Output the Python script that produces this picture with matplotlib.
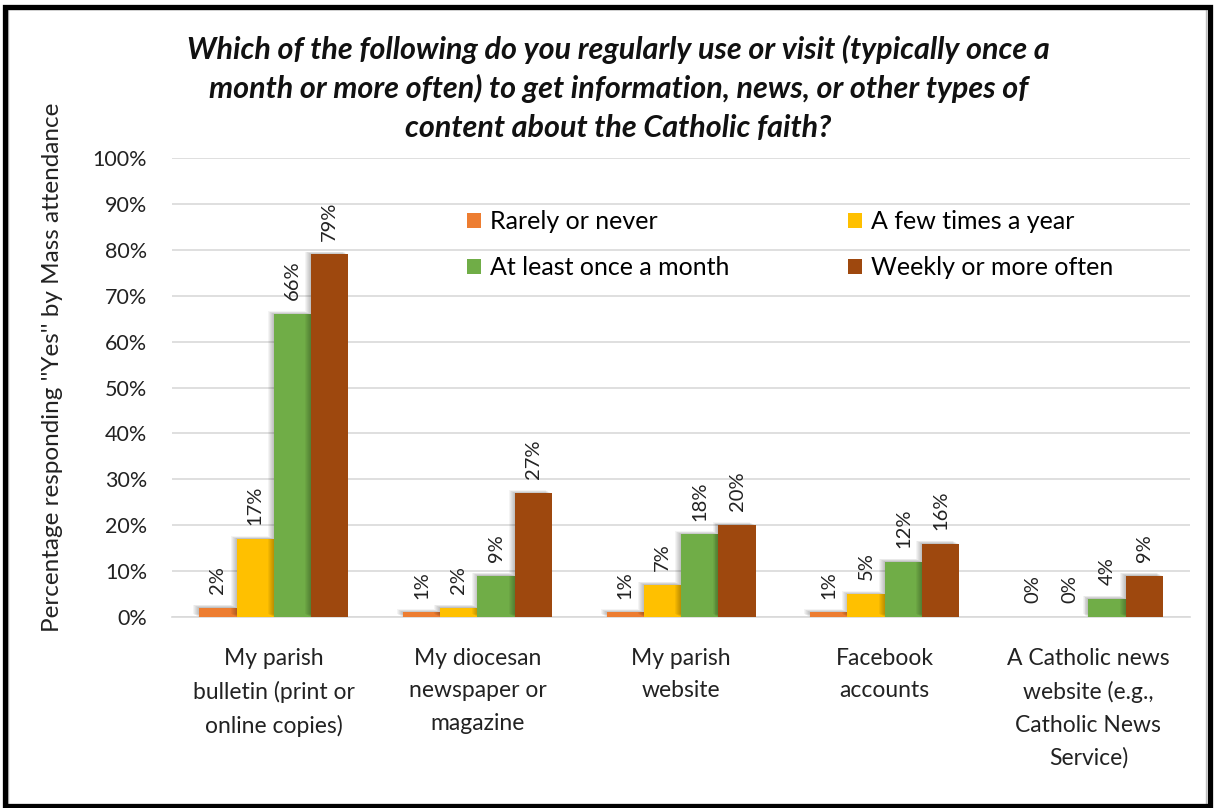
import matplotlib
matplotlib.use("Agg")
import matplotlib.pyplot as plt
import matplotlib.patheffects as pe
from matplotlib.patches import Rectangle, Patch
import numpy as np

plt.rcParams['font.family'] = ['Lato', 'DejaVu Sans']

categories = [
    "My parish\nbulletin (print or\nonline copies)",
    "My diocesan\nnewspaper or\nmagazine",
    "My parish\nwebsite",
    "Facebook\naccounts",
    "A Catholic news\nwebsite (e.g.,\nCatholic News\nService)",
]
series_names = ["Rarely or never", "A few times a year",
                "At least once a month", "Weekly or more often"]
rarely = [2, 1, 1, 1, 0]
few_times = [17, 2, 7, 5, 0]
monthly = [66, 9, 18, 12, 4]
weekly = [79, 27, 20, 16, 9]
yticks = [0, 10, 20, 30, 40, 50, 60, 70, 80, 90, 100]

colors = ["#ED7D31", "#FFC000", "#70AD47", "#9E480E"]
title = ("Which of the following do you regularly use or visit (typically once a\n"
         "month or more often) to get information, news, or other types of\n"
         "content about the Catholic faith?")
ylabel = "Percentage responding ''Yes'' by Mass attendance"

W, H = 1215, 808
fig = plt.figure(figsize=(W / 100, H / 100), dpi=100)
ax = fig.add_axes([0.1416, 0.2364, 0.838, 0.568])

x = np.arange(len(categories))
width = 0.183
series = [rarely, few_times, monthly, weekly]

# soft shadow cast up and to the left of each bar
shadow = [pe.SimplePatchShadow(offset=(-0.7 * k, 0.35 * k), shadow_rgbFace="#000000",
                               alpha=0.045) for k in range(1, 7)] + [pe.Normal()]

for i, (vals, col, name) in enumerate(zip(series, colors, series_names)):
    xpos = x + (i - 1.5) * width
    bars = ax.bar(xpos, vals, width, color=col, label=name, zorder=3)
    for b in bars:
        if b.get_height() > 0:
            b.set_path_effects(shadow)
    for xp, v in zip(xpos, vals):
        ax.text(xp, v + 3.0, f"{v:.0f}%", rotation=90, ha="center", va="bottom",
                fontsize=14.5, color="#222222", zorder=4)

ax.set_ylim(0, 100)
ax.set_xlim(-0.5, len(categories) - 0.5)
ax.set_yticks(yticks)
ax.set_yticklabels([f"{t}%" for t in yticks], fontsize=15.5, color="#222222")
ax.set_xticks(x)
ax.set_xticklabels(categories, fontsize=16.5, color="#222222", linespacing=1.68, va="top")
ax.tick_params(axis="both", length=0)
ax.tick_params(axis="x", pad=22)
ax.tick_params(axis="y", pad=18)
ax.grid(axis="y", color="#D9D9D9", linewidth=1.2, zorder=0)
for s in ["top", "right", "left"]:
    ax.spines[s].set_visible(False)
ax.spines["bottom"].set_color("#D9D9D9")
ax.spines["bottom"].set_linewidth(1.2)

ax.set_ylabel(ylabel, fontsize=17.5, color="#222222")
ax.yaxis.set_label_coords(-0.107, 0.545)

order = [0, 2, 1, 3]
leg_handles = [Patch(facecolor=colors[k]) for k in order]
ax.legend(leg_handles, [series_names[k] for k in order],
          ncol=2, loc="upper left", bbox_to_anchor=(0.268, 0.935), frameon=False,
          fontsize=18, handlelength=0.55, handleheight=0.55, handletextpad=0.35,
          columnspacing=4.75, labelspacing=0.9)

fig.text(0.509, 0.957, title, ha="center", va="top", fontsize=22,
         fontweight="bold", fontstyle="italic", linespacing=1.44, color="#111111")

# black outer frame with a thin grey inner edge
fig.patches.append(Rectangle((8 / W, 2 / H), 1198 / W, 797 / H, transform=fig.transFigure,
                             fill=False, edgecolor="#BDBDBD", linewidth=1.0, zorder=0))
fig.patches.append(Rectangle((4.5 / W, 2.5 / H), 1205 / W, 799 / H, transform=fig.transFigure,
                             fill=False, edgecolor="#000000", linewidth=3.8, zorder=1))

fig.savefig("out.png", dpi=100, facecolor="white")
